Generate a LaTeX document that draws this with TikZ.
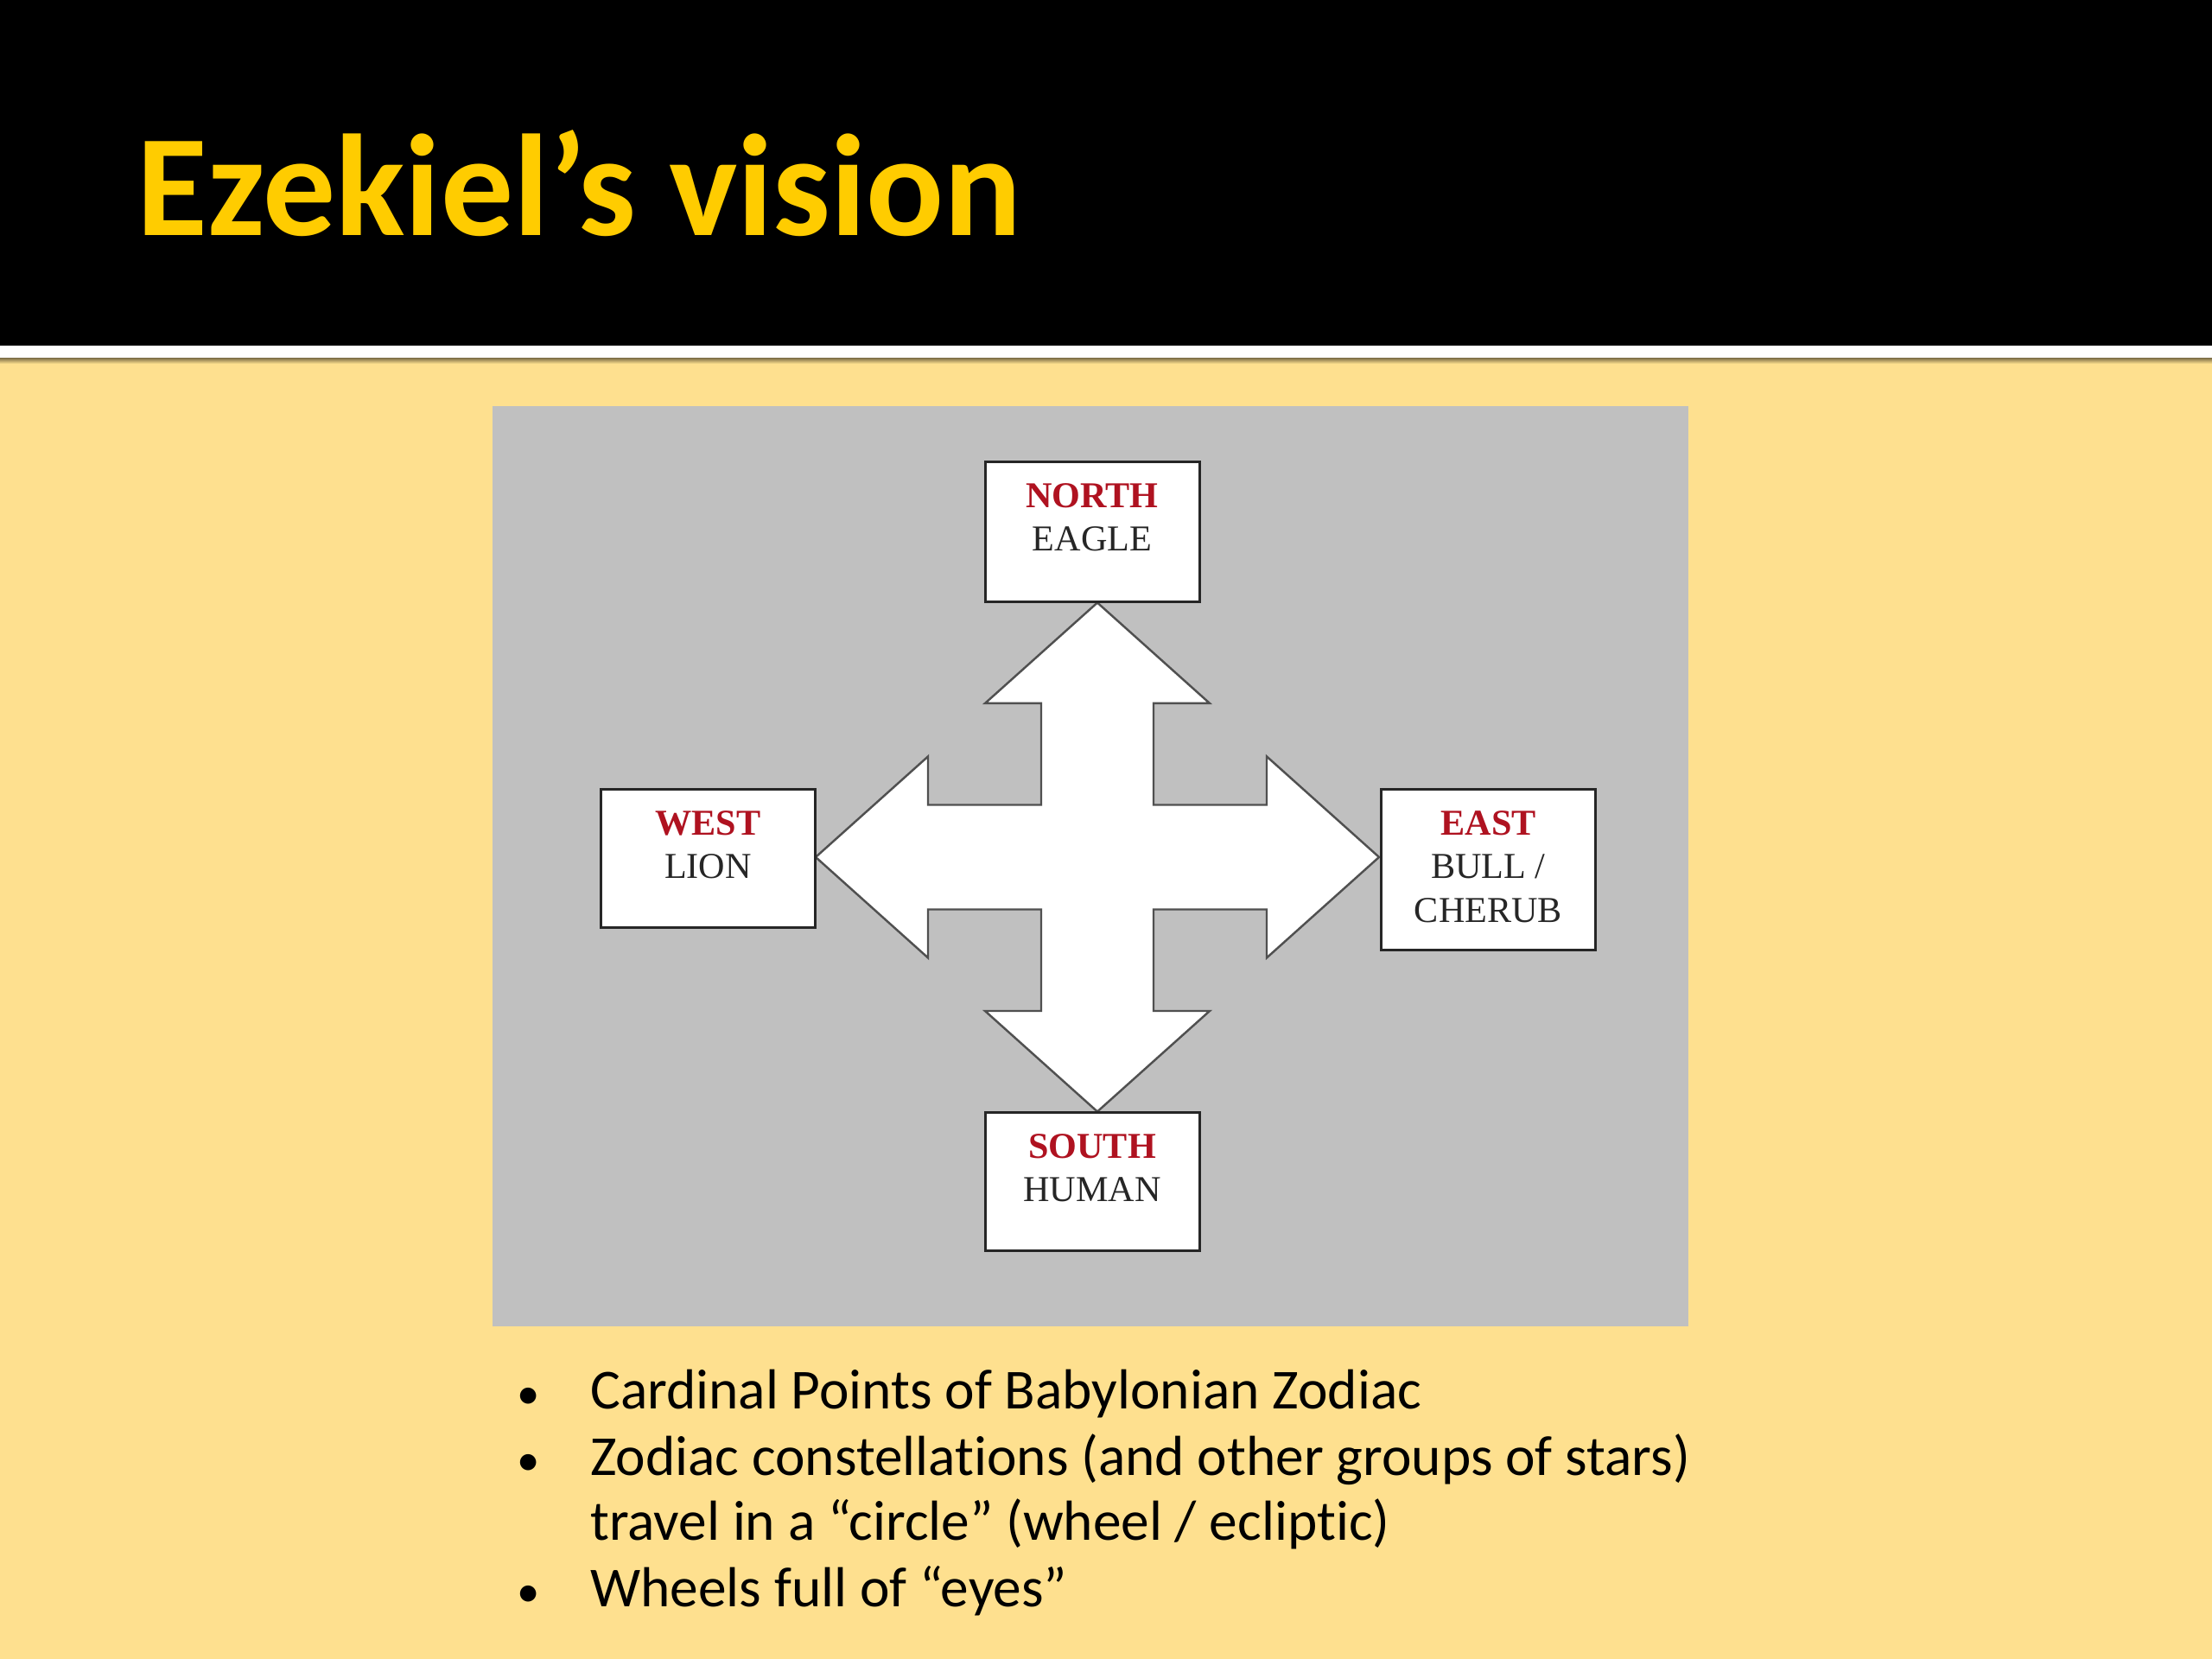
\documentclass[tikz,border=0pt]{standalone}
\usepackage{fontspec}
\setmainfont{Carlito}[Ligatures=NoCommon]
\newfontfamily\boxfont{Liberation Serif}
\usetikzlibrary{positioning}

\definecolor{slideyellow}{RGB}{254,224,143}
\definecolor{titleyellow}{RGB}{255,204,0}
\definecolor{panelgray}{RGB}{192,192,192}
\definecolor{pointred}{RGB}{175,18,32}
\definecolor{edgegray}{RGB}{80,80,80}

\begin{document}
\begin{tikzpicture}[
    cardbox/.style={draw=black!85, fill=white, line width=0.85pt, minimum width=2.48cm, inner sep=0pt},
    cardtext/.style={inner sep=0pt, align=center, text=black!85, font=\boxfont\fontsize{12}{14.4}\selectfont},
    point/.style={inner sep=0pt, anchor=base west, font=\fontsize{18.6}{22}\selectfont},
    pointdot/.style={inner sep=0pt, anchor=base, font=\fontsize{15}{18}\selectfont},
  ]
    \useasboundingbox (0,0) rectangle (25.6,19.2);

    % slide background and header bar
    \path[fill=slideyellow] (0,0) rectangle (25.6,19.2);
    \path[fill=black] (0,15.2) rectangle (25.6,19.2);
    \path[fill=white] (0,15.05) rectangle (25.6,15.2);
    \path[top color=slideyellow!55!black, bottom color=slideyellow] (0,14.99) rectangle (25.6,15.05);

    \node[anchor=base west, inner sep=0pt, text=titleyellow, font=\bfseries\fontsize{47.7}{56}\selectfont] (title) at (1.58,16.47) {Ezekiel’s vision};

    \path[fill=panelgray] (5.70,3.85) rectangle (19.54,14.50);

    \coordinate (hub) at (12.70,9.28);

    % four-way arrow
    \begin{scope}[shift={(hub)}]
    \path[draw=edgegray, fill=white, line width=0.7pt, line join=miter]
        (0,2.945) -- (1.30,1.78) -- (0.65,1.78) -- (0.65,0.605) -- (1.96,0.605) -- (1.96,1.165)
        -- (3.26,0) -- (1.96,-1.165) -- (1.96,-0.605) -- (0.65,-0.605) -- (0.65,-1.78) -- (1.30,-1.78)
        -- (0,-2.945) -- (-1.30,-1.78) -- (-0.65,-1.78) -- (-0.65,-0.605) -- (-1.96,-0.605) -- (-1.96,-1.165)
        -- (-3.26,0) -- (-1.96,1.165) -- (-1.96,0.605) -- (-0.65,0.605) -- (-0.65,1.78) -- (-1.30,1.78) -- cycle;
    \end{scope}

    \node[cardbox, minimum height=1.62cm] (north) at (12.64,13.04) {};
    \node[cardbox, minimum height=1.60cm] (west) at (8.195,9.26) {};
    \node[cardbox, minimum height=1.86cm] (east) at (17.225,9.13) {};
    \node[cardbox, minimum height=1.60cm] (south) at (12.64,5.52) {};

    \node[cardtext, below=2.5mm of north.north] (northtext) {\textcolor{pointred}{\textbf{NORTH}}\\EAGLE};
    \node[cardtext, below=2.5mm of west.north] (westtext) {\textcolor{pointred}{\textbf{WEST}}\\LION};
    \node[cardtext, below=2.5mm of east.north] (easttext) {\textcolor{pointred}{\textbf{EAST}}\\BULL /\\CHERUB};
    \node[cardtext, below=2.5mm of south.north] (southtext) {\textcolor{pointred}{\textbf{SOUTH}}\\HUMAN};

    % bullet points
    \node[pointdot] (dot1) at (6.12,2.89) {•};
    \node[point] (pt1) at (6.825,2.89) {Cardinal Points of Babylonian Zodiac};
    \node[pointdot] (dot2) at (6.12,2.12) {•};
    \node[point] (pt2) at (6.825,2.12) {Zodiac constellations (and other groups of stars)};
    \node[point] (pt2b) at (6.825,1.37) {travel in a “circle” (wheel / ecliptic)};
    \node[pointdot] (dot3) at (6.12,0.60) {•};
    \node[point] (pt3) at (6.825,0.60) {Wheels full of “eyes”};
\end{tikzpicture}
\end{document}
